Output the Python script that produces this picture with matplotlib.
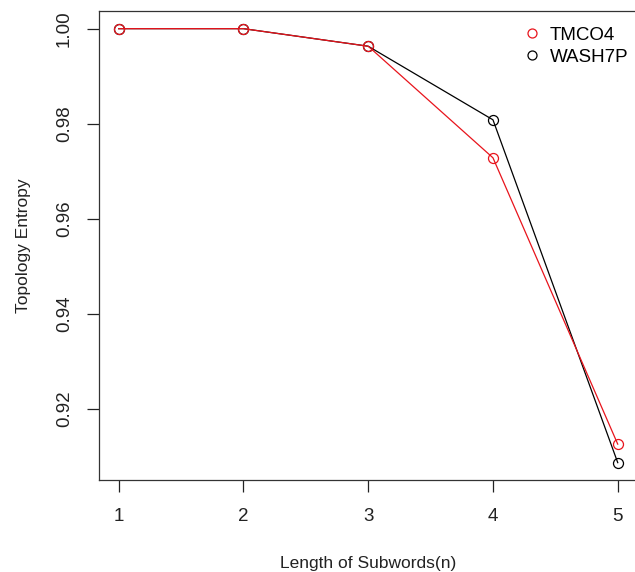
import matplotlib
matplotlib.use("Agg")
import matplotlib.pyplot as plt
from matplotlib.lines import Line2D

plt.rcParams['font.family'] = ['Liberation Sans', 'DejaVu Sans']

# Data
subword_len = [1, 2, 3, 4, 5]
tmco4 = [1.0000, 1.0000, 0.9963, 0.9728, 0.9125]
wash7p = [1.0000, 1.0000, 0.9963, 0.9808, 0.9086]
series_names = ["TMCO4", "WASH7P"]
y_ticks = [0.92, 0.94, 0.96, 0.98, 1.00]

W, H = 635, 572
fig = plt.figure(figsize=(W / 100, H / 100), dpi=100)

# R-style plot region (extends a little past the right edge, as in the reference)
left, right, bottom, top = 98.7, 637.7, 480.0, 11.3
ax = fig.add_axes([left / W, 1 - bottom / H, (right - left) / W, (bottom - top) / H])

lw = 0.9
ms = 7.2
ax.plot(subword_len, wash7p, color="black", linewidth=lw, marker="o", markersize=ms,
        markerfacecolor="none", markeredgewidth=lw, clip_on=False)
ax.plot(subword_len, tmco4, color="#e8141c", linewidth=lw, marker="o", markersize=ms,
        markerfacecolor="none", markeredgewidth=lw, clip_on=False)

xmin, xmax = min(subword_len), max(subword_len)
pad = 0.04 * (xmax - xmin)
ax.set_xlim(xmin - pad, xmax + pad)
ymin = min(min(tmco4), min(wash7p))
ymax = max(max(tmco4), max(wash7p))
pad = 0.04 * (ymax - ymin)
ax.set_ylim(ymin - pad, ymax + pad)

ax.set_xticks(subword_len)
ax.set_xticklabels([str(v) for v in subword_len])
ax.set_yticks(y_ticks)
ax.set_yticklabels([f"{v:.2f}" for v in y_ticks], rotation=90, va="center")

for s in ax.spines.values():
    s.set_linewidth(0.9)
    s.set_color("#333333")
ax.tick_params(direction="out", length=8.5, width=0.9, labelsize=13.5, colors="#222222")
ax.tick_params(axis="x", pad=12)
ax.tick_params(axis="y", pad=10)

ax.set_xlabel("Length of Subwords(n)", fontsize=12.5, labelpad=22, color="#222222")
ax.set_ylabel("Topology Entropy", fontsize=12.5, labelpad=18, color="#222222")

handles = [
    Line2D([], [], color="#e8141c", marker="o", linestyle="none", markersize=ms * 0.9,
           markerfacecolor="none", markeredgewidth=lw),
    Line2D([], [], color="black", marker="o", linestyle="none", markersize=ms * 0.9,
           markerfacecolor="none", markeredgewidth=lw),
]
fig.legend(handles, series_names, loc="upper left", bbox_to_anchor=(512 / W, 1 - 19 / H),
           frameon=False, fontsize=13.5, handletextpad=0.3, labelspacing=0.28,
           borderaxespad=0, handlelength=1.3)

fig.savefig("out.png", dpi=100)
